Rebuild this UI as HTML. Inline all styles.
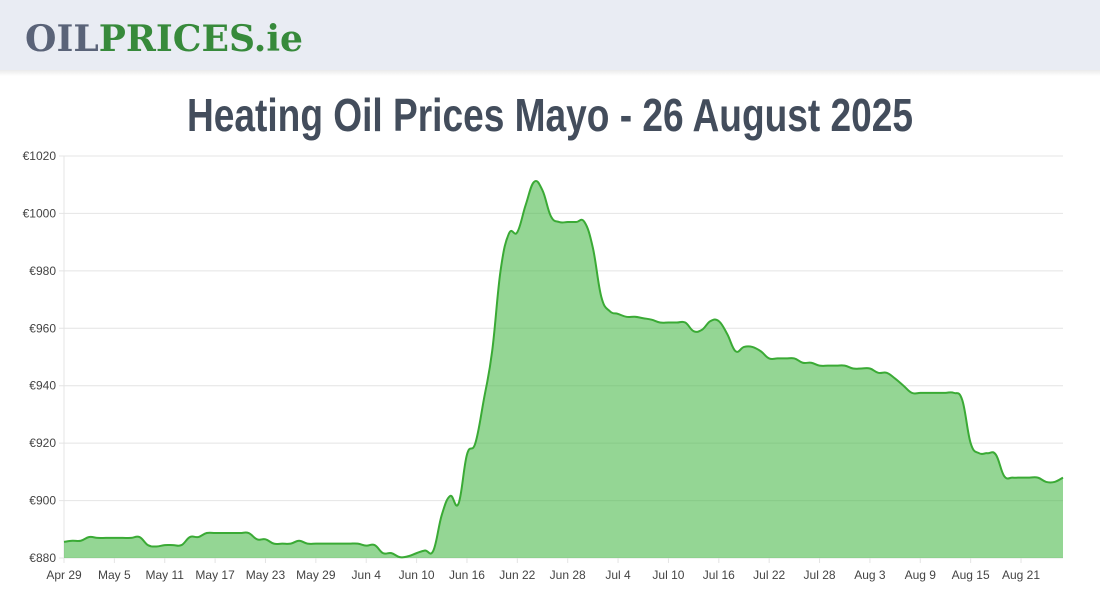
<!DOCTYPE html>
<html><head><meta charset="utf-8"><style>
html,body{margin:0;padding:0;background:#fff;width:1100px;height:600px;overflow:hidden;font-family:"Liberation Sans",sans-serif}
</style></head><body>
<svg id="svg" width="1100" height="600" xmlns="http://www.w3.org/2000/svg">
<defs><linearGradient id="sh" x1="0" y1="0" x2="0" y2="1"><stop offset="0" stop-color="#000" stop-opacity="0.08"/><stop offset="1" stop-color="#000" stop-opacity="0"/></linearGradient></defs>
<rect x="0" y="0" width="1100" height="70" fill="#e9ecf3"/>
<rect x="0" y="70" width="1100" height="6" fill="url(#sh)"/>
<text x="25" y="51" font-family="DejaVu Serif,serif" font-weight="bold" font-size="36" textLength="278" lengthAdjust="spacingAndGlyphs"><tspan fill="#5a6378">OIL</tspan><tspan fill="#378a3b">PRICES.ie</tspan></text>
<text x="550" y="131" text-anchor="middle" font-family="Liberation Sans Narrow,Liberation Sans,sans-serif" font-weight="bold" font-size="46" fill="#434d5c" textLength="726" lengthAdjust="spacingAndGlyphs">Heating Oil Prices Mayo - 26 August 2025</text>
<g id="grid"></g><g id="plot"></g><g id="axes"></g>
</svg>
<script>
const yTicks=[880,900,920,940,960,980,1000,1020];
const xTickLabels=["Apr 29","May 5","May 11","May 17","May 23","May 29","Jun 4","Jun 10","Jun 16","Jun 22","Jun 28","Jul 4","Jul 10","Jul 16","Jul 22","Jul 28","Aug 3","Aug 9","Aug 15","Aug 21"];
const prices=[885.6,886,886,887.3,887,887,887,887,887,887.3,884.5,884,884.5,884.5,884.5,887.3,887.3,888.7,888.7,888.7,888.7,888.7,888.7,886.5,886.5,885,885,885,886,885,885,885,885,885,885,885,884.3,884.5,881.7,881.7,880.3,880.6,881.7,882.6,882.6,895,901.6,899,916,920,935,952,980,993,993.5,1003,1011,1008,999,997,997,997,997,988,971,966,965,964,964,963.5,963,962,962,962,962,959,959.5,962.5,962.5,958,952,953.5,953.5,952,949.5,949.5,949.5,949.5,948,948,947,947,947,947,946,946,946,944.5,944.5,942.5,940,937.5,937.5,937.5,937.5,937.5,937.5,935,920,916.5,916.5,916,908.5,908,908,908,908,906.5,906.5,908];
const NS="http://www.w3.org/2000/svg";
const X0=64,X1=1063,Y0=558,Y1=156;
const xs=i=>X0+(X1-X0)*i/(prices.length-1);
const ys=v=>Y0-(v-880)/(1020-880)*(Y0-Y1);
function mk(t,a,p){const e=document.createElementNS(NS,t);for(const k in a)e.setAttribute(k,a[k]);p.appendChild(e);return e;}
const grid=document.getElementById('grid'),plot=document.getElementById('plot'),axes=document.getElementById('axes');
yTicks.forEach(v=>{
 const l=mk('line',{x1:X0-5,x2:X1,y1:ys(v),y2:ys(v),stroke:'#e4e4e4','stroke-width':1},grid);
 
 
 const t=mk('text',{x:X0-8,y:ys(v)+4,'text-anchor':'end','font-size':12,fill:'#444'},axes);
 t.textContent='€'+v;
 
 
});
mk('line',{x1:X0,x2:X0,y1:Y1,y2:Y0,stroke:'#e4e4e4'},grid);
xTickLabels.forEach((s,i)=>{
 const x=xs(i*6);
 mk('line',{x1:x,x2:x,y1:Y0,y2:Y0+5,stroke:'#e4e4e4'},grid);
 const t=mk('text',{x:x,y:579,'text-anchor':'middle','font-size':12,fill:'#444'},axes);
 t.textContent=s;
 
 
});
const pts=prices.map((v,i)=>[xs(i),ys(v)]);
let d='M'+pts[0][0]+','+pts[0][1];
const tn=0.4;
for(let i=0;i<pts.length-1;i++){
 const p0=pts[Math.max(0,i-1)],p1=pts[i],p2=pts[i+1],p3=pts[Math.min(pts.length-1,i+2)];
 const c1=[p1[0]+(p2[0]-p0[0])*tn/2,p1[1]+(p2[1]-p0[1])*tn/2];
 const c2=[p2[0]-(p3[0]-p1[0])*tn/2,p2[1]-(p3[1]-p1[1])*tn/2];
 d+=` C${c1[0]},${Math.min(Y0,c1[1])} ${c2[0]},${Math.min(Y0,c2[1])} ${p2[0]},${p2[1]}`;
}
const area=mk('path',{d:d+` L${X1},${Y0} L${X0},${Y0} Z`,fill:'rgba(76,187,76,0.6)',stroke:'none'},plot);


const line=mk('path',{d:d,fill:'none',stroke:'#3aaa35','stroke-width':2},plot);


</script>
</body></html>
